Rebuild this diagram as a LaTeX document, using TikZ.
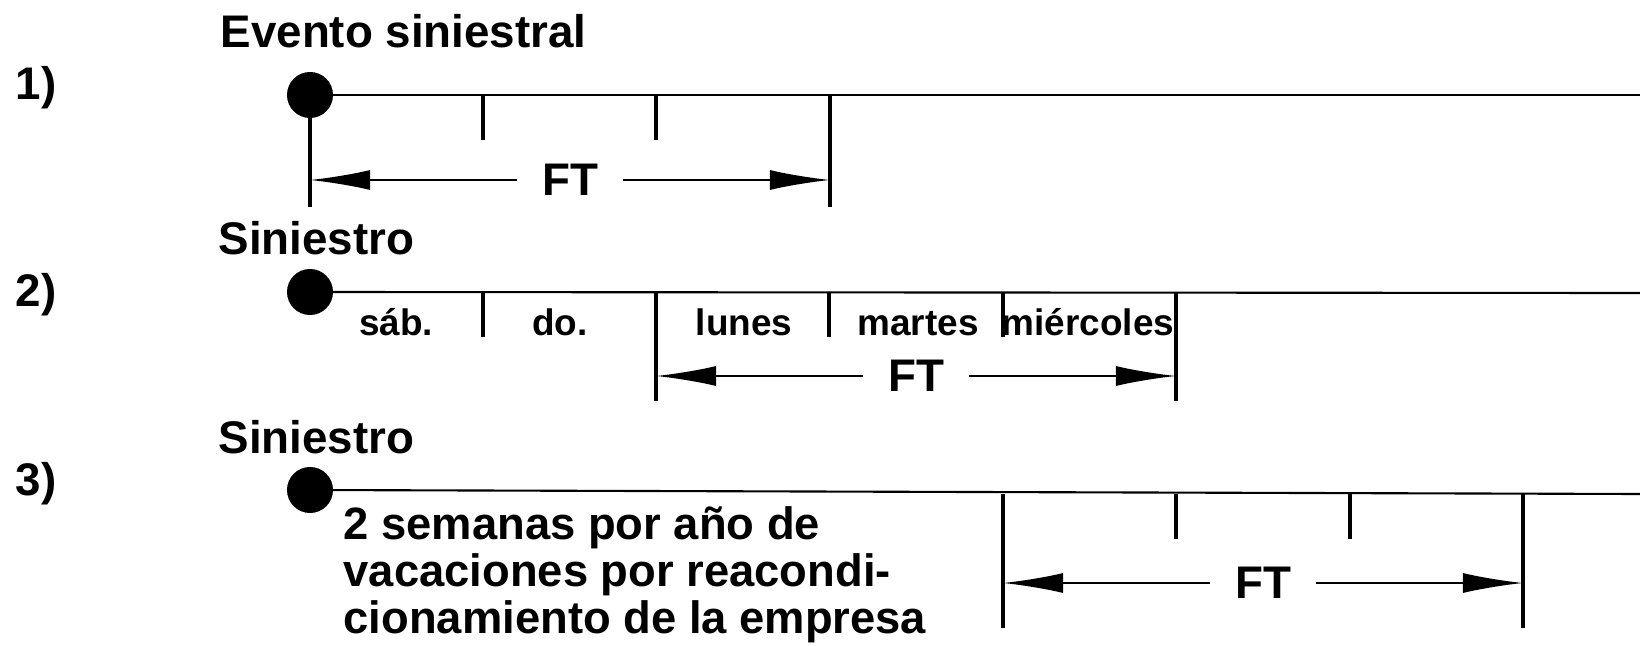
\documentclass[tikz,border=0pt]{standalone}
\usepackage{fontspec}
\setmainfont{Liberation Sans}
\usetikzlibrary{positioning, arrows.meta}

\begin{document}
\begin{tikzpicture}[x=0.01cm, y=-0.01cm,
                    every node/.style = {font=\bfseries\fontsize{13}{14}\selectfont, inner sep=0pt},
                    axis/.style = {line width=0.6pt},
                    tick/.style = {line width=0.9pt},
                    dot/.style = {circle, fill=black, minimum size=0.46cm},
                    span/.style = {line width=0.6pt, {Latex[length=6mm,width=2mm]}-{Latex[length=6mm,width=2mm]}},
                    gap/.style = {fill=white, inner xsep=7pt, inner ysep=2pt},
                    day/.style = {anchor=base, font=\bfseries\fontsize{10.5}{12}\selectfont}]
                \useasboundingbox (0,0) rectangle (1640,646);
                % 1)
                \node[anchor=base west] (n1) at (15,100) {1)};
                \node[anchor=base west] (ev) at (220,48) {Evento siniestral};
                \node[dot] (s1) at (310,95) {};
                \coordinate (e1) at (1640,95);
                \draw[axis] (s1.center) -- (e1);
                \foreach \x in {483,656} \draw[tick] (\x,95) -- ++(0,45);
                \coordinate (l1) at (310,207);
                \coordinate (k1) at (830,95);
                \coordinate (m1) at (830,207);
                \draw[tick] (s1.center) -- (l1);
                \draw[tick] (k1) -- (m1);
                \coordinate (a1) at (310,180);
                \coordinate (b1) at (830,180);
                \draw[span] (a1) -- node[gap] (ft1) {FT} (b1);
                % 2)
                \node[anchor=base west] (n2) at (15,307) {2)};
                \node[anchor=base west] (si2) at (218,255) {Siniestro};
                \node[dot] (s2) at (310,292) {};
                \coordinate (e2) at (1640,293);
                \draw[axis] (s2.center) -- (e2);
                \foreach \x in {483,829,1003} \draw[tick] (\x,293) -- ++(0,44);
                \foreach \x in {656,1176} \draw[tick] (\x,293) -- ++(0,108);
                \node[day] (sab) at (396,336) {sáb.};
                \node[day] (dom) at (560,336) {do.};
                \node[day] (lun) at (744,336) {lunes};
                \node[day] (mar) at (918,336) {martes};
                \node[day] (mie) at (1088,336) {miércoles};
                \coordinate (a2) at (656,376);
                \coordinate (b2) at (1176,376);
                \draw[span] (a2) -- node[gap] (ft2) {FT} (b2);
                % 3)
                \node[anchor=base west] (n3) at (15,495) {3)};
                \node[anchor=base west] (si3) at (218,453) {Siniestro};
                \node[dot] (s3) at (310,490) {};
                \coordinate (e3) at (1640,494);
                \draw[axis] (s3.center) -- (e3);
                \foreach \x in {1176,1350} \draw[tick] (\x,494) -- ++(0,45);
                \foreach \x in {1003,1523} \draw[tick] (\x,494) -- ++(0,134);
                \node[anchor=north west, align=left, font=\bfseries\fontsize{12.9}{13.4}\selectfont]
                    (vac) at (343,506) {2 semanas por año de\\vacaciones por reacondi-\\cionamiento de la empresa};
                \coordinate (a3) at (1003,583);
                \coordinate (b3) at (1523,583);
                \draw[span] (a3) -- node[gap] (ft3) {FT} (b3);
            \end{tikzpicture}
\end{document}
